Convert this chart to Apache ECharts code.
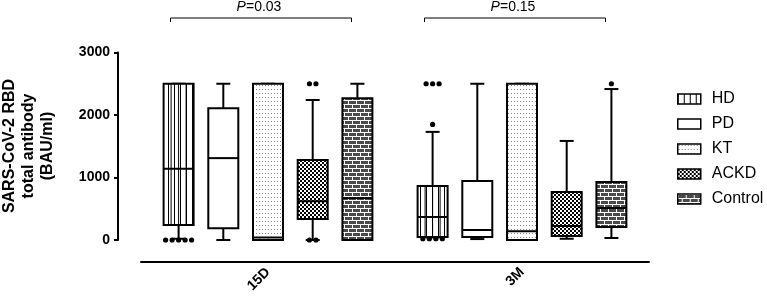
<!DOCTYPE html>
<html>
<head>
<meta charset="utf-8">
<script src="https://cdn.jsdelivr.net/npm/echarts@6/dist/echarts.min.js"></script>
<style>
  html, body { margin: 0; padding: 0; background: #fff; }
  #chart { width: 767px; height: 297px; }
</style>
</head>
<body>
<div id="chart"></div>
<script>
var categories = ['15D', '3M'];
var groupNames = ['HD', 'PD', 'KT', 'ACKD', 'Control'];
var pValues = ['0.03', '0.15'];
var yTitle = 'SARS-CoV-2 RBD\ntotal antibody\n(BAU/ml)';

// [min, q1, median, q3, max] for 15D and 3M
var hdStats = [[20, 240, 1140, 2500, 2500], [40, 48, 368, 864, 1730]];
var pdStats = [[0, 190, 1310, 2110, 2500], [15, 48, 160, 944, 2500]];
var ktStats = [[0, 0, 40, 2500, 2500], [0, 0, 140, 2500, 2500]];
var ackdStats = [[0, 335, 620, 1280, 2240], [20, 64, 224, 768, 1585]];
var controlStats = [[0, 0, 670, 2270, 2500], [32, 208, 512, 928, 2415]];

// outliers for 15D and 3M
var hdOut = [[0, 0, 0, 0, 0], [1850, 2500, 2500, 2500, 20, 20, 20, 20]];
var pdOut = [[], []];
var ktOut = [[], []];
var ackdOut = [[2500, 2500, 0, 0], []];
var controlOut = [[], [2500]];

var allStats = [hdStats, pdStats, ktStats, ackdStats, controlStats];
var allOut = [hdOut, pdOut, ktOut, ackdOut, controlOut];

var FONT = '"Liberation Sans", Arial, sans-serif';

function makeTile(w, h, draw) {
  var c = document.createElement('canvas');
  c.width = w; c.height = h;
  var ctx = c.getContext('2d');
  ctx.fillStyle = '#fff';
  ctx.fillRect(0, 0, w, h);
  draw(ctx);
  return { image: c, repeat: 'repeat' };
}

var fills = [
  // HD: vertical stripes (legend only, boxes get their own lines)
  makeTile(6, 2, function (ctx) { ctx.fillStyle = '#000'; ctx.fillRect(0, 0, 1, 2); }),
  '#fff',
  // KT: sparse dots
  makeTile(3, 4, function (ctx) { ctx.fillStyle = '#888'; ctx.fillRect(1, 1, 1, 1); }),
  // ACKD: fine checker
  makeTile(4, 4, function (ctx) {
    ctx.fillStyle = '#000';
    ctx.fillRect(0, 0, 2, 2); ctx.fillRect(2, 2, 2, 2);
  }),
  // Control: bricks
  makeTile(8, 8, function (ctx) {
    ctx.fillStyle = '#4a4a4a';
    ctx.fillRect(0, 0, 8, 8);
    ctx.fillStyle = '#fff';
    ctx.fillRect(0, 0, 8, 1);
    ctx.fillRect(0, 4, 8, 1);
    ctx.fillRect(0, 1, 1, 3);
    ctx.fillRect(4, 5, 1, 3);
  })
];

var STEP = 44.7, HALF = 15, CAP = 7;

function makeRender(gi) {
  return function (params, api) {
    var ci = api.value(0);
    var cx = api.coord([ci, 0])[0] + (gi - 2) * STEP;
    var y = function (v) { return api.coord([ci, v])[1]; };
    var yMin = y(api.value(1)), yQ1 = y(api.value(2)), yMed = y(api.value(3)),
        yQ3 = y(api.value(4)), yMax = y(api.value(5));
    var ls = { stroke: '#000', lineWidth: 2 };
    var kids = [];
    kids.push({ type: 'line', shape: { x1: cx, y1: yQ3, x2: cx, y2: yMax }, style: ls });
    kids.push({ type: 'line', shape: { x1: cx, y1: yQ1, x2: cx, y2: yMin }, style: ls });
    kids.push({ type: 'line', shape: { x1: cx - CAP, y1: yMax, x2: cx + CAP, y2: yMax }, style: ls });
    kids.push({ type: 'line', shape: { x1: cx - CAP, y1: yMin, x2: cx + CAP, y2: yMin }, style: ls });
    kids.push({
      type: 'rect',
      shape: { x: cx - HALF, y: yQ3, width: HALF * 2, height: yQ1 - yQ3 },
      style: { fill: fills[gi], stroke: '#000', lineWidth: 2 }
    });
    if (gi === 0) {
      for (var k = 1; k < 4; k++) {
        var lx = cx - HALF + k * HALF / 2;
        kids.push({ type: 'line', shape: { x1: lx, y1: yQ3, x2: lx, y2: yQ1 }, style: { stroke: '#000', lineWidth: 1 } });
      }
    }
    kids.push({ type: 'line', shape: { x1: cx - HALF, y1: yMed, x2: cx + HALF, y2: yMed }, style: ls });
    // outliers, equal values spread side by side
    var outs = allOut[gi][ci];
    var counts = {};
    outs.forEach(function (v) { counts[v] = (counts[v] || 0) + 1; });
    Object.keys(counts).forEach(function (key) {
      var n = counts[key];
      var py = y(+key);
      for (var j = 0; j < n; j++) {
        kids.push({
          type: 'circle',
          shape: { cx: cx + (j - (n - 1) / 2) * 6.5, cy: py, r: 2.6 },
          style: { fill: '#000' }
        });
      }
    });
    return { type: 'group', children: kids };
  };
}

var series = groupNames.map(function (name, gi) {
  return {
    type: 'custom',
    name: name,
    data: allStats[gi].map(function (s, ci) { return [ci].concat(s); }),
    renderItem: makeRender(gi),
    itemStyle: { color: fills[gi], borderColor: '#000', borderWidth: 2 },
    silent: true
  };
});

series.push({
  type: 'custom',
  name: 'pval',
  data: pValues.map(function (p, ci) { return [ci, p]; }),
  renderItem: function (params, api) {
    var ci = api.value(0);
    var top = api.coord([ci, 3000]);
    var x0 = top[0] - 97.5, x1 = top[0] + 83.5, by = top[1] - 34.5;
    var ls = { stroke: '#000', lineWidth: 1 };
    return {
      type: 'group',
      children: [
        { type: 'line', shape: { x1: x0, y1: by, x2: x1, y2: by }, style: ls },
        { type: 'line', shape: { x1: x0, y1: by, x2: x0, y2: by + 4 }, style: ls },
        { type: 'line', shape: { x1: x1, y1: by, x2: x1, y2: by + 4 }, style: ls },
        {
          type: 'text',
          style: {
            x: top[0] - 9, y: by - 11,
            text: '{i|P}=' + pValues[ci],
            align: 'center', verticalAlign: 'middle',
            font: '14px ' + FONT, fill: '#000',
            rich: { i: { fontStyle: 'italic', fontSize: 14, fontFamily: FONT } }
          }
        }
      ]
    };
  },
  silent: true
});

var chart = echarts.init(document.getElementById('chart'));
chart.setOption({
  animation: false,
  grid: { left: 141, right: 118, top: 52.5, bottom: 57, containLabel: false, outerBoundsMode: 'none' },
  graphic: [{
    type: 'text',
    x: 29, y: 146,
    rotation: Math.PI / 2,
    silent: true,
    style: {
      text: yTitle,
      align: 'center', verticalAlign: 'middle',
      fontFamily: FONT, fontWeight: 'bold', fontSize: 16, lineHeight: 19,
      fill: '#000'
    }
  }],
  legend: {
    orient: 'vertical',
    left: 677, top: 91, padding: 0,
    itemWidth: 23, itemHeight: 10, itemGap: 9,
    icon: 'rect',
    selectedMode: false,
    textStyle: { fontSize: 16, fontFamily: FONT, color: '#000', padding: [0, 0, 0, 6] },
    data: groupNames.map(function (name, gi) {
      return { name: name, itemStyle: { color: fills[gi], borderColor: '#000', borderWidth: 1.5 } };
    })
  },
  xAxis: {
    type: 'category',
    data: categories,
    offset: 22,
    axisLine: { onZero: false, lineStyle: { color: '#000', width: 2 } },
    axisTick: { alignWithLabel: true, length: 4, lineStyle: { color: '#000', width: 2 } },
    axisLabel: { rotate: 45, margin: 8, color: '#000', fontWeight: 'bold', fontSize: 14, fontFamily: FONT },
    splitLine: { show: false }
  },
  yAxis: {
    type: 'value',
    min: 0, max: 3000, interval: 1000,
    offset: 23,
    axisLine: { show: true, onZero: false, lineStyle: { color: '#000', width: 2 } },
    axisTick: { show: true, length: 4, lineStyle: { color: '#000', width: 2 } },
    splitLine: { show: false },
    axisLabel: {
      margin: 8, color: '#000', fontWeight: 'bold', fontSize: 14, fontFamily: FONT,
      formatter: function (v) { return String(v); }
    }
  },
  series: series
});
</script>
</body>
</html>
